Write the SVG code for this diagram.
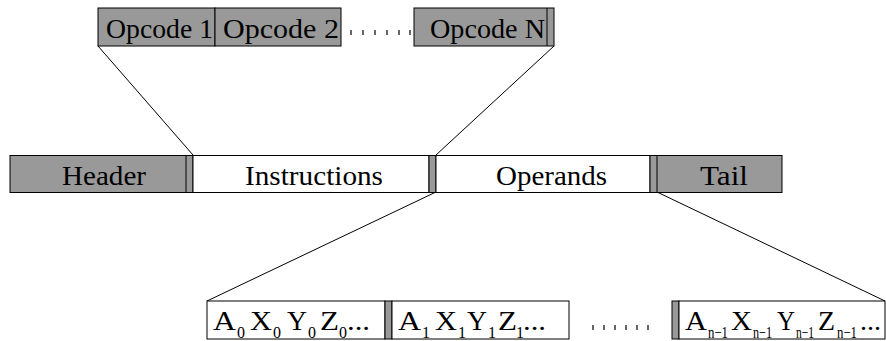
<svg xmlns="http://www.w3.org/2000/svg" width="886" height="341" viewBox="0 0 886 341">
<style>
.g{fill:#999999;stroke:#000;stroke-width:1}
.w{fill:#ffffff;stroke:#000;stroke-width:1}
.t{font-family:"Liberation Serif","Times New Roman",serif;font-size:27.5px;fill:#000}
.s{font-family:"Liberation Serif","Times New Roman",serif;font-size:16px;fill:#000}
.c{stroke:#000;stroke-width:1;fill:none}
.d{stroke:#000;stroke-width:1.2}
</style>
<rect width="886" height="341" fill="#fff"/>
<g id="connectors">
<line class="c" x1="98" y1="46" x2="193" y2="155"/>
<line class="c" x1="554" y1="46" x2="436" y2="155"/>
<line class="c" x1="436" y1="192" x2="207" y2="301"/>
<line class="c" x1="657" y1="192" x2="885" y2="301"/>
</g>
<g id="opcode1">
<rect class="g" x="98" y="8" width="117" height="38"/>
<text class="t" x="106" y="38" textLength="107" lengthAdjust="spacingAndGlyphs">Opcode 1</text>
</g>
<g id="opcode2">
<rect class="g" x="215" y="8" width="126" height="38"/>
<text class="t" x="223" y="38" textLength="116" lengthAdjust="spacingAndGlyphs">Opcode 2</text>
</g>
<g id="opcode-dots">
<line class="d" x1="351" y1="30" x2="351" y2="35"/>
<line class="d" x1="363" y1="30" x2="363" y2="35"/>
<line class="d" x1="375" y1="30" x2="375" y2="35"/>
<line class="d" x1="387" y1="30" x2="387" y2="35"/>
<line class="d" x1="399" y1="30" x2="399" y2="35"/>
<line class="d" x1="410" y1="30" x2="410" y2="35"/>
</g>
<g id="opcodeN">
<rect class="g" x="414" y="8" width="140" height="38"/>
<line class="c" x1="547" y1="8" x2="547" y2="46"/>
<text class="t" x="430" y="38" textLength="115" lengthAdjust="spacingAndGlyphs">Opcode N</text>
</g>
<g id="header">
<rect class="g" x="10" y="155.5" width="183" height="37"/>
<line class="c" x1="186" y1="155.5" x2="186" y2="192.5"/>
<text class="t" x="62" y="184.5" textLength="84" lengthAdjust="spacingAndGlyphs">Header</text>
</g>
<g id="instructions">
<rect class="w" x="193" y="155.5" width="236" height="37"/>
<rect class="g" x="429" y="155.5" width="7" height="37"/>
<text class="t" x="245" y="184.5" textLength="138" lengthAdjust="spacingAndGlyphs">Instructions</text>
</g>
<g id="operands">
<rect class="w" x="436" y="155.5" width="214" height="37"/>
<text class="t" x="496" y="184.5" textLength="111" lengthAdjust="spacingAndGlyphs">Operands</text>
</g>
<g id="tail">
<rect class="g" x="650" y="155.5" width="132" height="37"/>
<line class="c" x1="657" y1="155.5" x2="657" y2="192.5"/>
<text class="t" x="700" y="184.5" textLength="48" lengthAdjust="spacingAndGlyphs">Tail</text>
</g>
<g id="operand0">
<rect class="w" x="207" y="301" width="178" height="38"/>
<rect class="g" x="385" y="301" width="7" height="38"/>
<text class="t" x="213" y="330" textLength="23" lengthAdjust="spacingAndGlyphs">A</text>
<text class="s" x="237" y="338">0</text>
<text class="t" x="250" y="330" textLength="22" lengthAdjust="spacingAndGlyphs">X</text>
<text class="s" x="273" y="338">0</text>
<text class="t" x="287" y="330" textLength="20" lengthAdjust="spacingAndGlyphs">Y</text>
<text class="s" x="308" y="338">0</text>
<text class="t" x="320" y="330" textLength="19" lengthAdjust="spacingAndGlyphs">Z</text>
<text class="s" x="339" y="338">0</text>
<text class="t" x="347" y="330" textLength="23" lengthAdjust="spacingAndGlyphs">...</text>
</g>
<g id="operand1">
<rect class="w" x="392" y="301" width="177" height="38"/>
<text class="t" x="398" y="330" textLength="23" lengthAdjust="spacingAndGlyphs">A</text>
<text class="s" x="422" y="338">1</text>
<text class="t" x="435" y="330" textLength="22" lengthAdjust="spacingAndGlyphs">X</text>
<text class="s" x="458" y="338">1</text>
<text class="t" x="467" y="330" textLength="20" lengthAdjust="spacingAndGlyphs">Y</text>
<text class="s" x="488" y="338">1</text>
<text class="t" x="498" y="330" textLength="19" lengthAdjust="spacingAndGlyphs">Z</text>
<text class="s" x="516" y="338">1</text>
<text class="t" x="523" y="330" textLength="23" lengthAdjust="spacingAndGlyphs">...</text>
</g>
<g id="operand-dots">
<line class="d" x1="593" y1="325" x2="593" y2="330"/>
<line class="d" x1="604" y1="325" x2="604" y2="330"/>
<line class="d" x1="615" y1="325" x2="615" y2="330"/>
<line class="d" x1="626" y1="325" x2="626" y2="330"/>
<line class="d" x1="637" y1="325" x2="637" y2="330"/>
<line class="d" x1="648" y1="325" x2="648" y2="330"/>
</g>
<g id="operandN">
<rect class="g" x="672" y="301" width="7" height="38"/>
<rect class="w" x="679" y="301" width="206" height="38"/>
<text class="t" x="685" y="330" textLength="22" lengthAdjust="spacingAndGlyphs">A</text>
<text class="s" x="708" y="338" textLength="20" lengthAdjust="spacingAndGlyphs">n−1</text>
<text class="t" x="731" y="330" textLength="21" lengthAdjust="spacingAndGlyphs">X</text>
<text class="s" x="753" y="338" textLength="19" lengthAdjust="spacingAndGlyphs">n−1</text>
<text class="t" x="777" y="330" textLength="18" lengthAdjust="spacingAndGlyphs">Y</text>
<text class="s" x="796" y="338" textLength="18" lengthAdjust="spacingAndGlyphs">n−1</text>
<text class="t" x="818" y="330" textLength="17" lengthAdjust="spacingAndGlyphs">Z</text>
<text class="s" x="837" y="338" textLength="20" lengthAdjust="spacingAndGlyphs">n−1</text>
<text class="t" x="860" y="330" textLength="21" lengthAdjust="spacingAndGlyphs">...</text>
</g>
</svg>
